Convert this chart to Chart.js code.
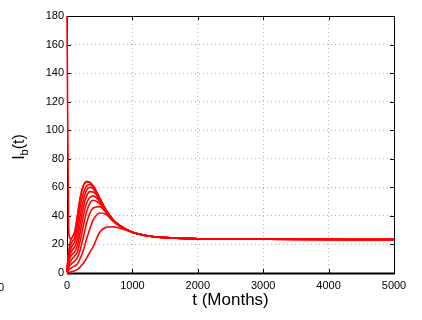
<!DOCTYPE html>
<html>
<head>
<meta charset="utf-8">
<script src="https://cdn.jsdelivr.net/npm/chart.js@4/dist/chart.umd.min.js"></script>
<style>
html,body{margin:0;padding:0;background:#fff;}
#c{display:block;}
</style>
</head>
<body>
<canvas id="c" width="422" height="320"></canvas>
<script>
// ---- data ----
const tMonths = [0, 25, 50, 80, 120, 160, 200, 250, 300, 350, 400, 500, 600, 700, 800, 1000, 1200, 1500, 2000, 3000, 5000];
const xTicks = [0, 1000, 2000, 3000, 4000, 5000];
const yTicks = [0, 20, 40, 60, 80, 100, 120, 140, 160, 180];
const curve0 = [180, 30, 24, 25, 29, 40, 52, 61, 64, 63.5, 61, 52.5, 44, 37.5, 33.5, 28.5, 26.3, 24.8, 24, 23.6, 23.5];
const curve1 = [2, 15, 22, 25, 29, 40, 52, 61, 64, 63.5, 61, 52.5, 44, 37.5, 33.5, 28.5, 26.3, 24.8, 24, 23.6, 23.5];
const curve2 = [2, 13, 19, 22, 25, 34, 46, 56, 61, 62, 60, 52, 43.8, 37.5, 33.5, 28.5, 26.3, 24.8, 24, 23.6, 23.5];
const curve3 = [1.5, 11, 16, 19, 22, 29, 40, 51, 58, 60, 59, 51.5, 43.6, 37.4, 33.4, 28.5, 26.3, 24.8, 24, 23.6, 23.5];
const curve4 = [1, 9, 13, 16, 18.5, 24, 34, 46, 54, 57, 56.8, 51, 43.5, 37.3, 33.4, 28.5, 26.3, 24.8, 24, 23.6, 23.5];
const curve5 = [1, 7, 11, 13, 15, 19.5, 28, 40, 49, 53, 54, 50, 43.3, 37.2, 33.3, 28.5, 26.3, 24.8, 24, 23.6, 23.5];
const curve6 = [0.5, 5, 8, 10, 12, 15, 22, 33, 43, 49, 51, 48.5, 43, 37, 33.2, 28.5, 26.3, 24.8, 24, 23.6, 23.5];
const curve7 = [0.5, 3.5, 5.5, 7, 8.5, 11, 16, 25, 35, 42, 45.5, 46.5, 42, 36.8, 33.1, 28.5, 26.3, 24.8, 24, 23.6, 23.5];
const curve8 = [0, 2, 3, 4, 5, 6.5, 10, 16, 24, 31, 37, 42, 41, 36.5, 33, 28.5, 26.3, 24.8, 24, 23.6, 23.5];
const curve9 = [0, 0.3, 0.6, 1, 1.6, 2.5, 4.2, 6.8, 10.5, 14.5, 18.5, 28.5, 32, 32.4, 31.5, 28.5, 26.2, 24.7, 24, 23.6, 23.5];
const curves = [curve9, curve8, curve7, curve6, curve5, curve4, curve3, curve2, curve1, curve0];

const datasets = curves.map(vals => ({
  data: vals.map((v, i) => ({x: tMonths[i], y: v})),
  borderColor: '#ff0000',
  borderWidth: 1.6,
  pointRadius: 0,
  fill: false,
  cubicInterpolationMode: 'monotone',
  clip: 4
}));

const frame = {
  id: 'frame',
  beforeDatasetsDraw(chart) {
    const {ctx, chartArea: a, scales: {x, y}} = chart;
    ctx.save();
    ctx.strokeStyle = '#000';
    ctx.lineWidth = 1;
    ctx.strokeRect(a.left + 0.5, a.top + 0.5, a.right - a.left, a.bottom - a.top);
    // inner ticks
    ctx.beginPath();
    yTicks.forEach(v => {
      const py = Math.round(y.getPixelForValue(v)) + 0.5;
      ctx.moveTo(a.left, py); ctx.lineTo(a.left + 4, py);
      ctx.moveTo(a.right, py); ctx.lineTo(a.right - 4, py);
    });
    xTicks.forEach(v => {
      const px = Math.round(x.getPixelForValue(v)) + 0.5;
      ctx.moveTo(px, a.bottom); ctx.lineTo(px, a.bottom - 4);
      ctx.moveTo(px, a.top); ctx.lineTo(px, a.top + 4);
    });
    ctx.stroke();
    // thick bottom axis
    ctx.lineWidth = 2.2;
    ctx.beginPath();
    ctx.moveTo(a.left, a.bottom + 0.5); ctx.lineTo(a.right + 1, a.bottom + 0.5);
    ctx.stroke();
    ctx.restore();
  },
  afterDraw(chart) {
    const {ctx, chartArea: a} = chart;
    ctx.save();
    ctx.fillStyle = '#000';
    // x title
    ctx.font = '17px "Liberation Sans", Arial, sans-serif';
    ctx.textAlign = 'center';
    ctx.textBaseline = 'alphabetic';
    ctx.fillText('t (Months)', (a.left + a.right) / 2, 305);
    // y title with subscript
    ctx.translate(23.5, 147);
    ctx.rotate(-Math.PI / 2);
    const mainF = '16px "Liberation Sans", Arial, sans-serif';
    const subF = '11px "Liberation Sans", Arial, sans-serif';
    ctx.font = mainF; const wI = ctx.measureText('I').width; const wT = ctx.measureText('(t)').width;
    ctx.font = subF; const wB = ctx.measureText('b').width;
    const total = wI + wB + wT;
    let cx = -total / 2;
    ctx.textAlign = 'left';
    ctx.font = mainF; ctx.fillText('I', cx, 0); cx += wI;
    ctx.font = subF; ctx.fillText('b', cx, 4); cx += wB;
    ctx.font = mainF; ctx.fillText('(t)', cx, 0);
    ctx.restore();
    // stray clipped label at far left
    ctx.save();
    ctx.font = '11px "Liberation Sans", Arial, sans-serif';
    ctx.fillStyle = '#000';
    ctx.textAlign = 'right';
    ctx.textBaseline = 'middle';
    ctx.fillText('0', 4, 288);
    ctx.restore();
  }
};

new Chart(document.getElementById('c'), {
  type: 'line',
  data: {datasets},
  plugins: [frame],
  options: {
    responsive: false,
    animation: false,
    events: [],
    layout: {padding: {left: 0, right: 28, top: 16, bottom: 0}},
    plugins: {legend: {display: false}, tooltip: {enabled: false}},
    scales: {
      x: {
        type: 'linear', min: 0, max: 5000,
        afterBuildTicks: s => { s.ticks = xTicks.map(v => ({value: v})); },
        afterFit: s => { s.height = 47; },
        grid: {color: '#b4b4b4', lineWidth: 1, drawTicks: false},
        border: {display: false, dash: [1, 3]},
        ticks: {color: '#000', padding: 6, maxRotation: 0, callback: v => String(v), font: {family: '"Liberation Sans", Arial, sans-serif', size: 11}}
      },
      y: {
        type: 'linear', min: 0, max: 180,
        afterBuildTicks: s => { s.ticks = yTicks.map(v => ({value: v})); },
        afterFit: s => { s.width = 67; },
        grid: {color: '#b4b4b4', lineWidth: 1, drawTicks: false},
        border: {display: false, dash: [1, 3]},
        ticks: {color: '#000', padding: 3, callback: v => String(v), font: {family: '"Liberation Sans", Arial, sans-serif', size: 11}}
      }
    }
  }
});
</script>
</body>
</html>
